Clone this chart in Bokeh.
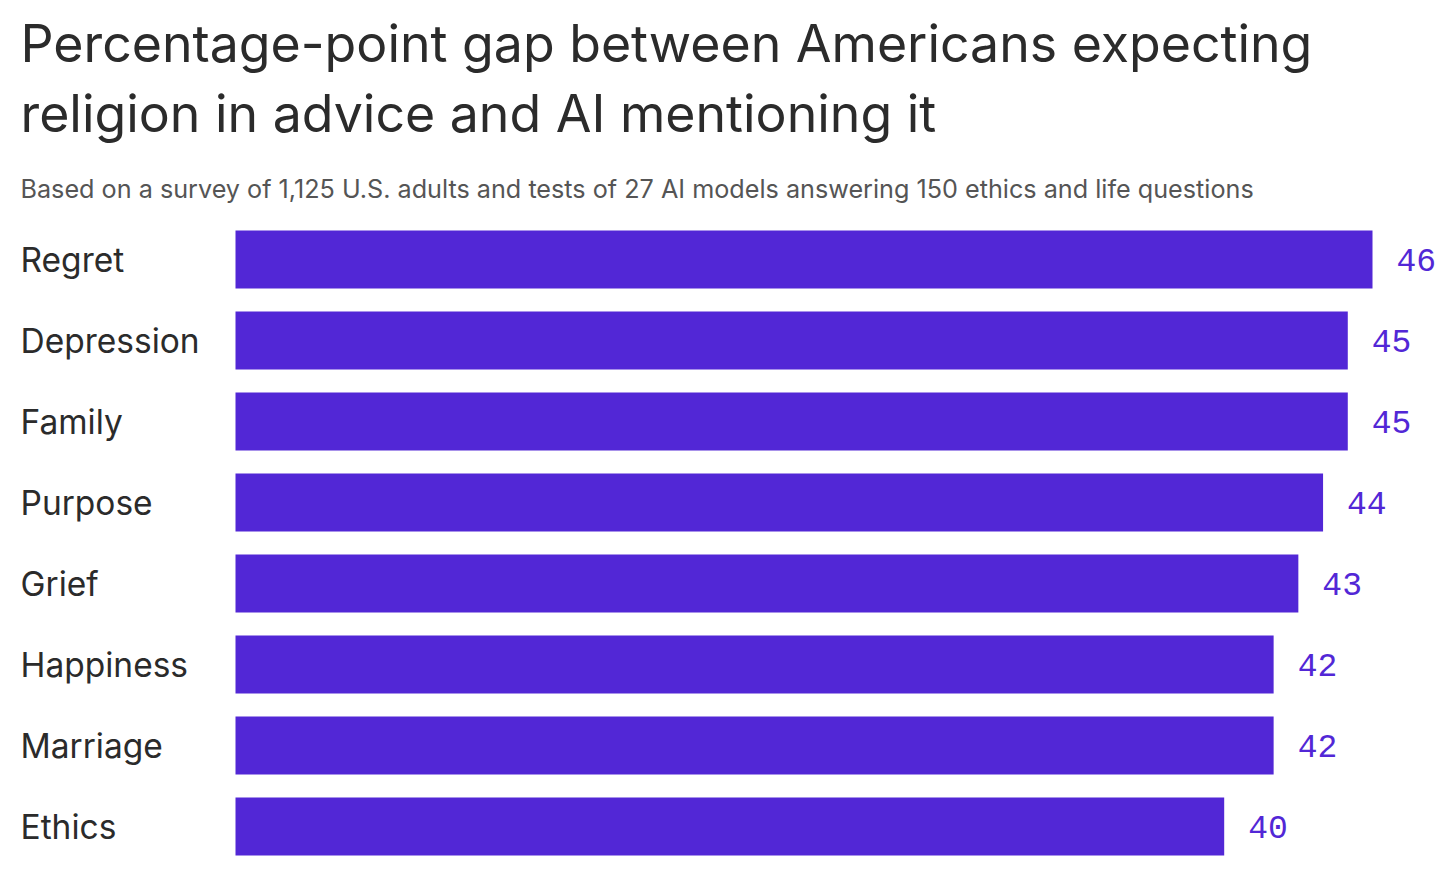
from bokeh.plotting import figure
from bokeh.models import Range1d, Label, ColumnDataSource
from bokeh.core.properties import value
from bokeh.embed import file_html
from bokeh.resources import INLINE

categories = ["Regret", "Depression", "Family", "Purpose", "Grief", "Happiness", "Marriage", "Ethics"]
values = [46, 45, 45, 44, 43, 42, 42, 40]
title_lines = ["Percentage-point gap between Americans expecting", "religion in advice and AI mentioning it"]
subtitle = "Based on a survey of 1,125 U.S. adults and tests of 27 AI models answering 150 ethics and life questions"

W, H = 1452, 869
bar_left_px = 235
px_per_unit = 1137 / 46
row_px = 81
first_center_px = 259

BAR = "#5227D6"
TXT = "#2b2b2b"

p = figure(width=W, height=H, output_backend="svg", toolbar_location=None,
           min_border=0, outline_line_color=None,
           x_range=Range1d(-bar_left_px / px_per_unit, (W - bar_left_px) / px_per_unit),
           y_range=Range1d((H - first_center_px) / row_px, -first_center_px / row_px))
p.axis.visible = False
p.grid.visible = False
p.background_fill_color = "white"
p.border_fill_color = "white"

rows = list(range(len(categories)))
src = ColumnDataSource(dict(cat=categories, val=values, row=rows,
                            lbl=[str(v) for v in values],
                            x0=[p.x_range.start] * len(rows)))

p.hbar(y="row", left=0, right="val", height=58 / row_px, source=src,
       fill_color=BAR, line_color=None)

p.text(x="x0", y="row", text="cat", source=src, x_offset=20,
       text_font=value("Inter"), text_font_size="33.5px", text_color=TXT,
       text_baseline="middle", text_align="left")

p.text(x="val", y="row", text="lbl", source=src, x_offset=24,
       text_font=value("Liberation Mono"), text_font_size="33px", text_color=BAR,
       text_baseline="middle", text_align="left")

for i, line in enumerate(title_lines):
    p.add_layout(Label(x=20, y=H - 42 - 70 * i, x_units="screen", y_units="screen",
                       text=line, text_font="Inter", text_font_size="51.8px",
                       text_color=TXT, text_baseline="middle", text_align="left"))

p.add_layout(Label(x=20, y=H - 188, x_units="screen", y_units="screen",
                   text=subtitle, text_font="Inter", text_font_size="25.2px",
                   text_color="#555555", text_baseline="middle", text_align="left"))

open("out.html", "w").write(file_html(p, INLINE))
